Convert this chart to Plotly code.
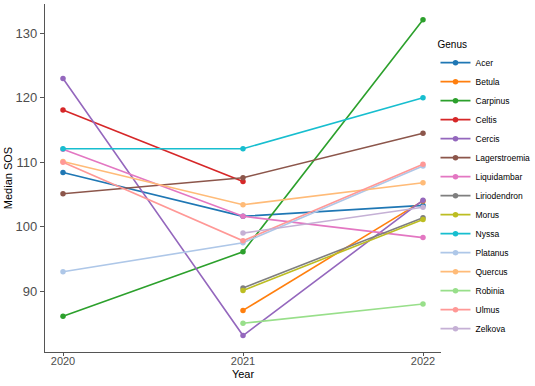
import plotly.graph_objects as go

years = [2020, 2021, 2022]

genus = ["Acer", "Betula", "Carpinus", "Celtis", "Cercis", "Lagerstroemia",
         "Liquidambar", "Liriodendron", "Morus", "Nyssa", "Platanus",
         "Quercus", "Robinia", "Ulmus", "Zelkova"]

acer = [108.4, 101.6, 103.3]
betula = [None, 87.0, 104.0]
carpinus = [86.1, 96.1, 132.1]
celtis = [118.1, 107.0, None]
cercis = [123.0, 83.1, 104.1]
lagerstroemia = [105.1, 107.6, 114.5]
liquidambar = [112.0, 101.6, 98.3]
liriodendron = [None, 90.5, 101.4]
morus = [None, 90.1, 101.1]
nyssa = [112.1, 112.1, 120.0]
platanus = [93.0, 97.5, 109.4]
quercus = [110.1, 103.4, 106.8]
robinia = [None, 85.0, 88.0]
ulmus = [110.0, 97.8, 109.7]
zelkova = [None, 99.0, 103.0]

series = [acer, betula, carpinus, celtis, cercis, lagerstroemia, liquidambar,
          liriodendron, morus, nyssa, platanus, quercus, robinia, ulmus, zelkova]

colors = ["#1f77b4", "#ff7f0e", "#2ca02c", "#d62728", "#9467bd", "#8c564b",
          "#e377c2", "#7f7f7f", "#bcbd22", "#17becf", "#aec7e8", "#ffbb78",
          "#98df8a", "#ff9896", "#c5b0d5"]

x_ticks = [2020, 2021, 2022]
y_ticks = [90, 100, 110, 120, 130]

fig = go.Figure()
for name, vals, col in zip(genus, series, colors):
    xs = [x for x, v in zip(years, vals) if v is not None]
    ys = [v for v in vals if v is not None]
    fig.add_trace(go.Scatter(
        x=xs, y=ys, mode="lines+markers", name=name,
        line=dict(color=col, width=1.6),
        marker=dict(color=col, size=5.5),
    ))

font_family = "Liberation Sans, Arial, sans-serif"
fig.update_layout(
    width=535, height=386,
    margin=dict(l=45, r=94, t=4, b=34, autoexpand=False),
    paper_bgcolor="white", plot_bgcolor="white",
    font=dict(family=font_family, color="black"),
    showlegend=True,
    legend=dict(
        title=dict(text="Genus", font=dict(size=10, color="black")),
        font=dict(size=8.5, color="black"),
        xref="container", yref="container",
        x=0.814, y=0.51, xanchor="left", yanchor="middle",
        tracegroupgap=0, itemwidth=30, maxheight=380,
        bgcolor="rgba(0,0,0,0)",
    ),
    xaxis=dict(
        range=[2019.9, 2022.1], automargin=False,
        tickmode="array", tickvals=x_ticks, ticktext=[str(t) for t in x_ticks],
        showgrid=False, zeroline=False,
        showline=True, linecolor="#555555", linewidth=1.2,
        ticks="outside", ticklen=3, tickcolor="#555555",
        ticklabelstandoff=-4,
        tickfont=dict(size=11, color="#4d4d4d"),
        title=dict(text="Year", font=dict(size=11, color="black"), standoff=4),
    ),
    yaxis=dict(
        range=[80.55, 134.55], automargin=False,
        tickmode="array", tickvals=y_ticks, ticktext=[str(t) for t in y_ticks],
        showgrid=False, zeroline=False,
        showline=True, linecolor="#555555", linewidth=1.2,
        ticks="outside", ticklen=4, tickcolor="#555555",
        tickfont=dict(size=13, color="#4d4d4d"),
        title=dict(text="Median SOS", font=dict(size=11, color="black"), standoff=0),
    ),
)

fig.write_html("out.html", config={"displayModeBar": False},
               post_script="document.body.style.margin='0';")
